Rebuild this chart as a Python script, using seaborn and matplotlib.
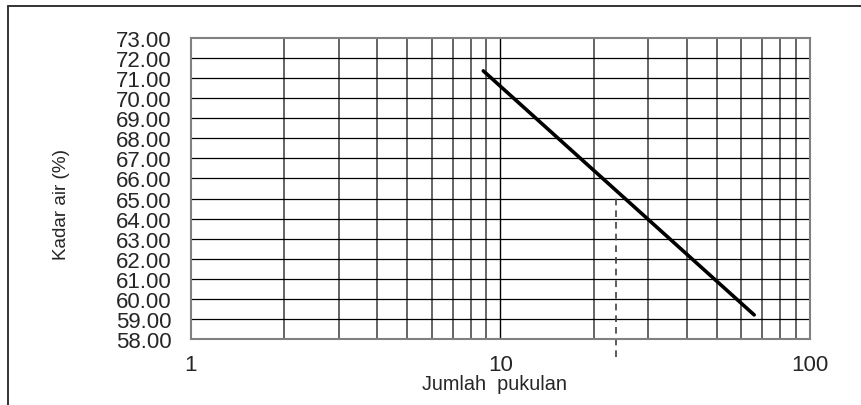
import numpy as np
import pandas as pd
import matplotlib
matplotlib.use("Agg")
import matplotlib.pyplot as plt
from matplotlib.ticker import FixedLocator, NullFormatter, FixedFormatter
import seaborn as sns

# Data
jumlah_pukulan = [8.8, 66.0]      # blows (log x)
kadar_air = [71.36, 59.2]         # water content (%)
x_ref = 23.7                       # dashed reference line
y_ticks = list(range(58, 74))
x_major = [1, 10, 100]
x_minor = [2, 3, 4, 5, 6, 7, 8, 9, 20, 30, 40, 50, 60, 70, 80, 90]

sns.set_style("white")
plt.rcParams['font.family'] = ['Liberation Sans', 'DejaVu Sans']

fig = plt.figure(figsize=(8.61, 4.06), dpi=100)
ax = fig.add_axes([0.2218, 0.1626, 0.719, 0.7414])

df = pd.DataFrame({"x": jumlah_pukulan, "y": kadar_air})

ax.set_xscale("log")
ax.set_xlim(1, 100)
ax.set_ylim(58, 73)

# grid
for v in x_minor:
    ax.axvline(v, color="#3a3a3a", lw=1.1, zorder=1)
ax.axvline(10, color="black", lw=1.0, zorder=1)
for v in y_ticks[1:-1]:
    ax.axhline(v, color="black", lw=0.9, zorder=1)

sns.lineplot(data=df, x="x", y="y", ax=ax, color="black", lw=2.6, zorder=3)

# dashed line down from the flow line
logx = np.log10(jumlah_pukulan)
y_at_ref = np.interp(np.log10(x_ref), logx, kadar_air)
ax.plot([x_ref, x_ref], [57.1, y_at_ref - 0.2], color="#404040", lw=1.2,
        ls=(0, (4, 3)), clip_on=False, zorder=2)

ax.xaxis.set_major_locator(FixedLocator(x_major))
ax.xaxis.set_major_formatter(FixedFormatter([str(v) for v in x_major]))
ax.xaxis.set_minor_locator(FixedLocator(x_minor))
ax.xaxis.set_minor_formatter(NullFormatter())
ax.set_yticks(y_ticks)
ax.set_yticklabels(["%.2f" % v for v in y_ticks])

ax.tick_params(axis="y", labelsize=16, length=3, pad=11, color="black")
ax.tick_params(axis="x", which="both", labelsize=16, length=0, pad=11)

for s in ax.spines.values():
    s.set_color("#808080")
    s.set_linewidth(1.5)
    s.set_visible(True)

ax.set_xlabel("Jumlah  pukulan", fontsize=14.3, labelpad=2)
ax.set_ylabel("Kadar air (%)", fontsize=13.6)
ax.yaxis.set_label_coords(-0.195, 0.45)
ax.xaxis.set_label_coords(0.49, -0.115)

# outer frame (top and left edges visible)
fig.add_artist(plt.Line2D([8 / 861, 1.0], [1 - 7 / 406, 1 - 7 / 406],
                          transform=fig.transFigure, color="#333333", lw=1.4))
fig.add_artist(plt.Line2D([8 / 861, 8 / 861], [0, 1 - 7 / 406],
                          transform=fig.transFigure, color="#333333", lw=1.4))

plt.savefig("out.png", dpi=100)
